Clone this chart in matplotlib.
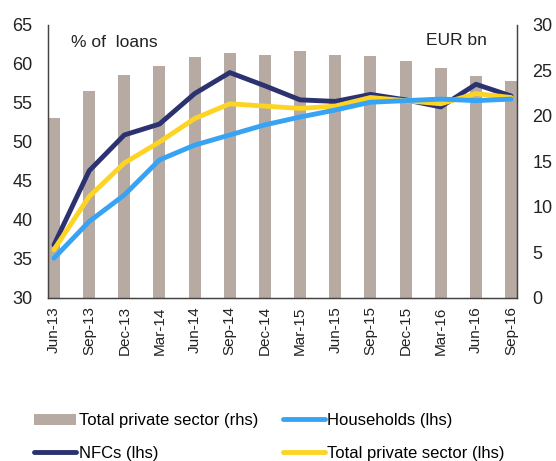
import matplotlib
matplotlib.use('Agg')
import matplotlib.pyplot as plt
import numpy as np

plt.rcParams['font.family'] = ['Liberation Sans', 'DejaVu Sans']

quarters = ['Jun-13', 'Sep-13', 'Dec-13', 'Mar-14', 'Jun-14', 'Sep-14', 'Dec-14',
            'Mar-15', 'Jun-15', 'Sep-15', 'Dec-15', 'Mar-16', 'Jun-16', 'Sep-16']
total_rhs = [19.8, 22.8, 24.5, 25.5, 26.5, 26.9, 26.7, 27.1, 26.7, 26.6, 26.0, 25.3, 24.4, 23.8]
households = [35.1, 39.8, 43.2, 47.7, 49.6, 50.9, 52.2, 53.2, 54.1, 55.1, 55.3, 55.5, 55.3, 55.5]
nfcs = [36.8, 46.3, 50.9, 52.3, 56.2, 58.9, 57.2, 55.4, 55.2, 56.1, 55.4, 54.5, 57.4, 55.9]
total_lhs = [36.2, 43.0, 47.3, 50.0, 53.0, 54.9, 54.6, 54.3, 54.6, 55.7, 55.3, 54.9, 56.2, 55.7]

x = np.arange(len(quarters))

fig = plt.figure(figsize=(5.56, 4.61), dpi=100)
ax = fig.add_axes([0.0863, 0.3536, 0.8437, 0.5922])
ax2 = ax.twinx()

# bars on the right axis, drawn behind the lines
ax.set_zorder(ax2.get_zorder() + 1)
ax.patch.set_visible(False)

bar_col = '#b7aaa2'
bars = ax2.bar(x, total_rhs, width=0.34, color=bar_col, label='Total private sector (rhs)')

lw = 3.5
l_nfc, = ax.plot(x, nfcs, color='#2c3270', lw=lw, solid_capstyle='round', label='NFCs (lhs)')
l_tot, = ax.plot(x, total_lhs, color='#fed424', lw=lw, solid_capstyle='round', label='Total private sector (lhs)')
l_hh, = ax.plot(x, households, color='#37a3f4', lw=lw, solid_capstyle='round', label='Households (lhs)')

ax.set_xlim(-0.17, 13.17)
ax.set_ylim(30, 65)
ax.set_yticks(np.arange(30, 66, 5))
ax2.set_ylim(0, 30)
ax2.set_yticks(np.arange(0, 31, 5))

ax.set_xticks(x)
ax.set_xticklabels(quarters, rotation=90, fontsize=11, color='#222222')
ax.tick_params(axis='x', length=0, pad=6)
ax.tick_params(axis='y', length=0, labelsize=13, pad=11, colors='#222222')
ax2.tick_params(axis='y', length=0, labelsize=13, pad=11, colors='#222222')

for a in (ax, ax2):
    a.spines['top'].set_visible(False)
    for s in ('left', 'right', 'bottom'):
        a.spines[s].set_color('#444444')
        a.spines[s].set_linewidth(0.9)

ax.text(0.05, 0.965, '% of  loans', transform=ax.transAxes, fontsize=12.5,
        va='top', ha='left', color='#222222')
ax.text(0.935, 0.97, 'EUR bn', transform=ax.transAxes, fontsize=12.5,
        va='top', ha='right', color='#222222')

fig.legend([bars, l_nfc, l_hh, l_tot],
           ['Total private sector (rhs)', 'NFCs (lhs)', 'Households (lhs)', 'Total private sector (lhs)'],
           ncol=2, loc='lower left', bbox_to_anchor=(0.035, -0.032), frameon=False,
           fontsize=12, handlelength=2.5, handletextpad=0.15, columnspacing=1.5,
           labelspacing=1.05)

fig.savefig('out.png', dpi=100)
